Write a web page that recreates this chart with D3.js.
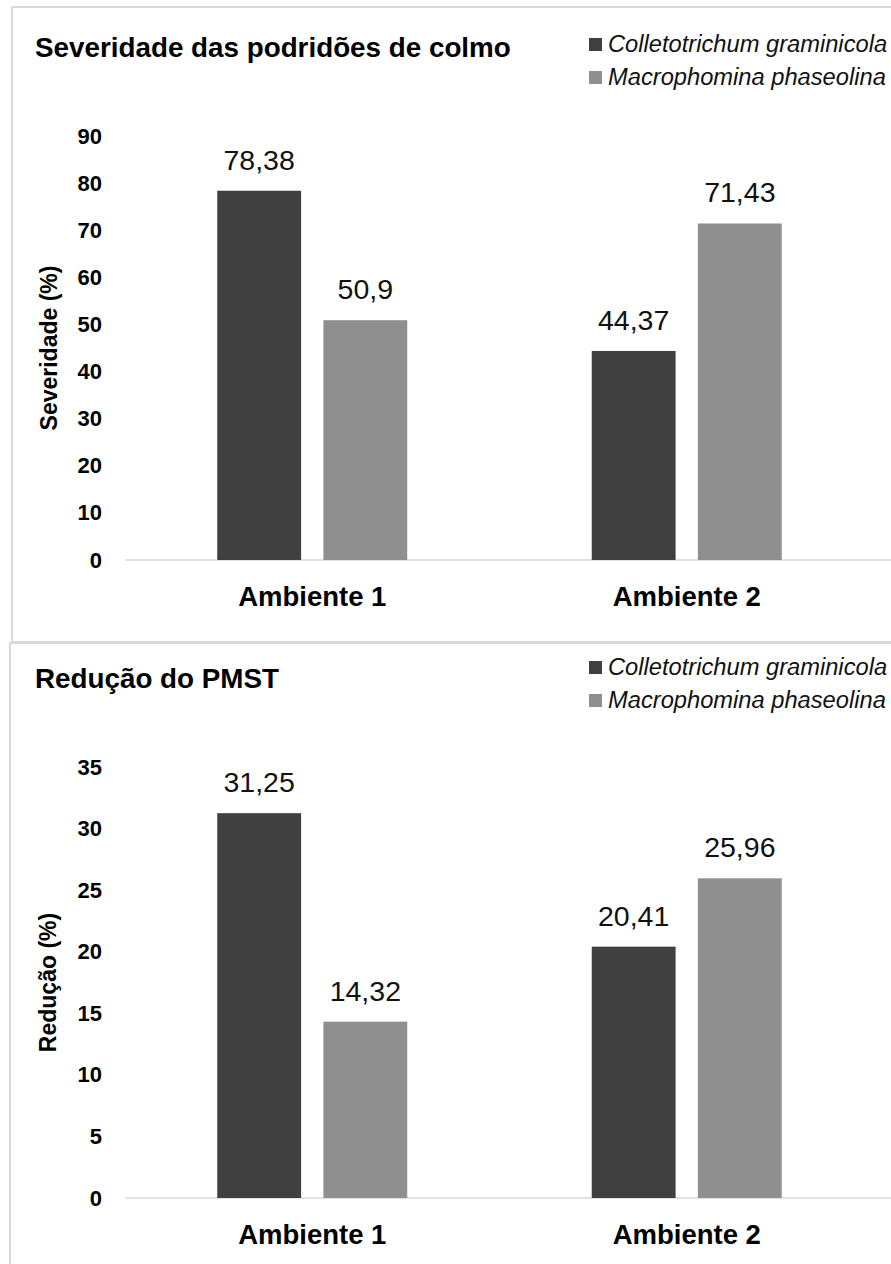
<!DOCTYPE html>
<html><head><meta charset="utf-8">
<script src="https://cdn.jsdelivr.net/npm/d3@7"></script>
<style>body{margin:0;background:#fff}svg{display:block;font-family:"Liberation Sans",Arial,sans-serif}</style>
</head><body>
<script>
const categories = ["Ambiente 1", "Ambiente 2"];
const seriesNames = ["Colletotrichum graminicola", "Macrophomina phaseolina"];
const severidadeC = [78.38, 44.37];
const severidadeM = [50.9, 71.43];
const reducaoC = [31.25, 20.41];
const reducaoM = [14.32, 25.96];
const severidadeTicks = [0,10,20,30,40,50,60,70,80,90];
const reducaoTicks = [0,5,10,15,20,25,30,35];
const colors = ["#404040", "#8f8f8f"];

const svg = d3.select("body").append("svg").attr("width", 891).attr("height", 1264);

function panel(cfg) {
  const g = svg.append("g");
  g.append("rect").attr("x", cfg.box[0]).attr("y", cfg.box[1]).attr("width", cfg.box[2]).attr("height", cfg.box[3])
    .attr("fill", "#fff").attr("stroke", "#d9d9d9").attr("stroke-width", 2);
  g.append("text").attr("x", 35).attr("y", cfg.titleY).attr("font-size", 27.8).attr("font-weight", "bold").text(cfg.title);
  seriesNames.forEach((s, i) => {
    const ly = cfg.legendY + i * 33;
    g.append("rect").attr("x", 589).attr("y", ly - 6).attr("width", 13).attr("height", 13).attr("fill", colors[i]);
    g.append("text").attr("x", 608).attr("y", ly + 8).attr("font-size", 23.7).attr("font-style", "italic").attr("fill", "#111").text(s);
  });
  const x0 = d3.scaleBand().domain(categories).range([125, 874]);
  const x1 = d3.scaleBand().domain([0, 1]).range([0, 190]).paddingInner(0.21);
  const y = d3.scaleLinear().domain([0, cfg.max]).range([cfg.base, cfg.top]);
  g.append("line").attr("x1", 125).attr("x2", 891).attr("y1", cfg.base).attr("y2", cfg.base).attr("stroke", "#d9d9d9").attr("stroke-width", 1.5);
  const yAxis = d3.axisLeft(y).tickValues(cfg.ticks).tickSize(0).tickPadding(0);
  const ya = g.append("g").attr("transform", "translate(102,0)").call(yAxis);
  ya.select(".domain").remove();
  ya.selectAll("text").attr("font-size", 22).attr("font-weight", "bold").attr("fill", "#000").attr("font-family", "Liberation Sans, Arial, sans-serif");
  g.append("text").attr("transform", `translate(${cfg.yTitleX},${(cfg.base + cfg.top) / 2}) rotate(-90)`)
    .attr("text-anchor", "middle").attr("font-size", 23).attr("font-weight", "bold").text(cfg.yTitle);
  const vals = [cfg.a, cfg.b];
  categories.forEach((c, ci) => {
    const gx = x0(c) + (x0.bandwidth() - 190) / 2;
    [0, 1].forEach(si => {
      const v = vals[si][ci];
      g.append("rect").attr("x", gx + x1(si)).attr("y", y(v)).attr("width", x1.bandwidth()).attr("height", cfg.base - y(v)).attr("fill", colors[si]);
      g.append("text").attr("x", gx + x1(si) + x1.bandwidth() / 2).attr("y", y(v) - 21).attr("text-anchor", "middle")
        .attr("font-size", 28.5).attr("fill", "#111").text(String(v).replace(".", ","));
    });
    g.append("text").attr("x", x0(c) + x0.bandwidth() / 2).attr("y", cfg.base + 46).attr("text-anchor", "middle")
      .attr("font-size", 27.5).attr("font-weight", "bold").text(c);
  });
}

panel({box: [12, 7, 900, 635], title: "Severidade das podridões de colmo", titleY: 57, legendY: 44,
  max: 90, base: 560, top: 136, ticks: severidadeTicks, yTitle: "Severidade (%)", yTitleX: 57, a: severidadeC, b: severidadeM});
panel({box: [10, 643, 900, 640], title: "Redução do PMST", titleY: 688, legendY: 667,
  max: 35, base: 1198, top: 767, ticks: reducaoTicks, yTitle: "Redução (%)", yTitleX: 56, a: reducaoC, b: reducaoM});
</script>
</body></html>
